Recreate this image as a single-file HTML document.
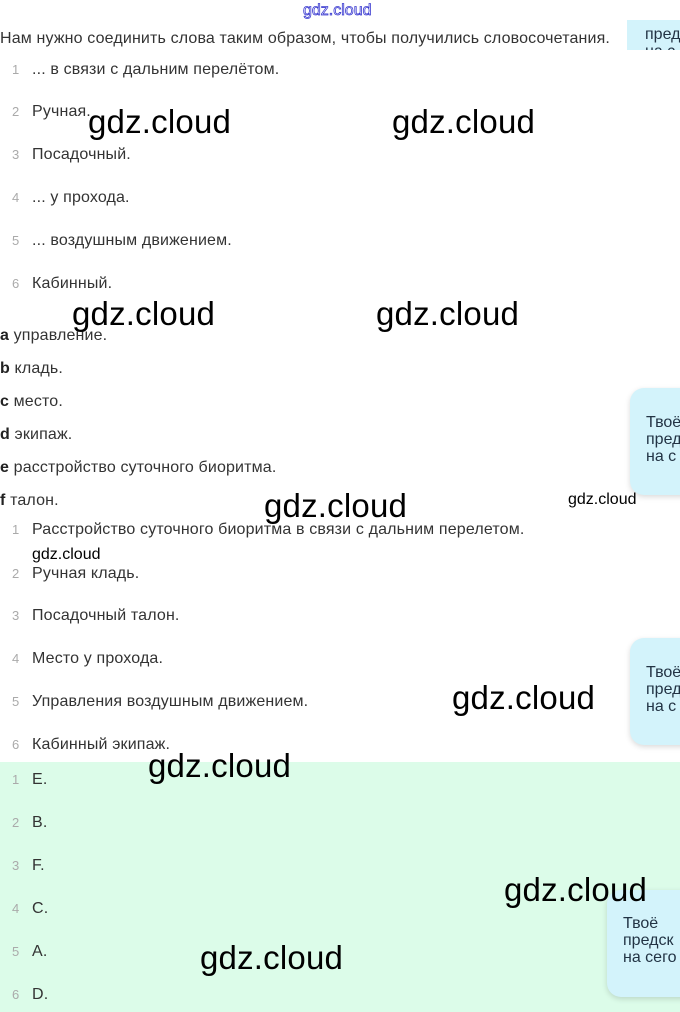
<!DOCTYPE html>
<html><head><meta charset="utf-8"><style>
body{margin:0;width:680px;height:1012px;position:relative;overflow:hidden;background:#fff;font-family:"Liberation Sans","DejaVu Sans",sans-serif;color:#333}
.t{position:absolute;font-size:16px;letter-spacing:0.15px;white-space:nowrap;line-height:16px}
.n{position:absolute;font-size:13px;color:#aaa;line-height:16px}
.w{position:absolute;font-size:33px;color:#000;line-height:36px;white-space:nowrap;font-family:"Liberation Sans",sans-serif;letter-spacing:0.2px}
.ws{position:absolute;font-size:16px;color:#000;line-height:18px}
.box{position:absolute;background:#d3f3fb;border-radius:14px;box-shadow:0 2px 6px rgba(0,0,0,.15);font-size:16px;line-height:17px;color:#234;padding:0 0 0 16px;box-sizing:border-box;width:120px;overflow:hidden}
b{color:#222}
</style></head><body>
<div style="position:absolute;left:0;top:762px;width:680px;height:250px;background:#dcfce9"></div>
<div class="box" style="left:627px;top:20px;height:30px;border-radius:0;box-shadow:none;padding-top:6px;padding-left:18px">пред<br>на с</div>
<div class="box" style="left:630px;top:388px;height:107px;padding-top:26px">Твоё<br>пред<br>на с</div>
<div class="box" style="left:630px;top:638px;height:107px;padding-top:26px">Твоё<br>пред<br>на с</div>
<div class="box" style="left:607px;top:890px;height:107px;padding-top:25px">Твоё<br>предск<br>на сего</div>

<div style="position:absolute;left:303px;top:2px;font-size:16px;color:#fff;-webkit-text-stroke:0.8px #3a3ad0;line-height:18px">gdz.cloud</div>
<div class="t" style="left:0;top:31px">Нам нужно соединить слова таким образом, чтобы получились словосочетания.</div>

<div class="n" style="left:12px;top:62px">1</div><div class="t" style="left:32px;top:62px">... в связи с дальним перелётом.</div>
<div class="n" style="left:12px;top:104px">2</div><div class="t" style="left:32px;top:104px">Ручная.</div>
<div class="n" style="left:12px;top:147px">3</div><div class="t" style="left:32px;top:147px">Посадочный.</div>
<div class="n" style="left:12px;top:190px">4</div><div class="t" style="left:32px;top:190px">... у прохода.</div>
<div class="n" style="left:12px;top:233px">5</div><div class="t" style="left:32px;top:233px">... воздушным движением.</div>
<div class="n" style="left:12px;top:276px">6</div><div class="t" style="left:32px;top:276px">Кабинный.</div>

<div class="t" style="left:0;top:328px"><b>a</b> управление.</div>
<div class="t" style="left:0;top:361px"><b>b</b> кладь.</div>
<div class="t" style="left:0;top:394px"><b>c</b> место.</div>
<div class="t" style="left:0;top:427px"><b>d</b> экипаж.</div>
<div class="t" style="left:0;top:460px"><b>e</b> расстройство суточного биоритма.</div>
<div class="t" style="left:0;top:493px"><b>f</b> талон.</div>

<div class="n" style="left:12px;top:522px">1</div><div class="t" style="left:32px;top:522px">Расстройство суточного биоритма в связи с дальним перелетом.</div>
<div class="n" style="left:12px;top:566px">2</div><div class="t" style="left:32px;top:566px">Ручная кладь.</div>
<div class="n" style="left:12px;top:608px">3</div><div class="t" style="left:32px;top:608px">Посадочный талон.</div>
<div class="n" style="left:12px;top:651px">4</div><div class="t" style="left:32px;top:651px">Место у прохода.</div>
<div class="n" style="left:12px;top:694px">5</div><div class="t" style="left:32px;top:694px">Управления воздушным движением.</div>
<div class="n" style="left:12px;top:737px">6</div><div class="t" style="left:32px;top:737px">Кабинный экипаж.</div>

<div class="n" style="left:12px;top:772px">1</div><div class="t" style="left:32px;top:772px">E.</div>
<div class="n" style="left:12px;top:815px">2</div><div class="t" style="left:32px;top:815px">B.</div>
<div class="n" style="left:12px;top:858px">3</div><div class="t" style="left:32px;top:858px">F.</div>
<div class="n" style="left:12px;top:901px">4</div><div class="t" style="left:32px;top:901px">C.</div>
<div class="n" style="left:12px;top:944px">5</div><div class="t" style="left:32px;top:944px">A.</div>
<div class="n" style="left:12px;top:987px">6</div><div class="t" style="left:32px;top:987px">D.</div>

<div class="w" style="left:88px;top:104px">gdz.cloud</div>
<div class="w" style="left:392px;top:104px">gdz.cloud</div>
<div class="w" style="left:72px;top:296px">gdz.cloud</div>
<div class="w" style="left:376px;top:296px">gdz.cloud</div>
<div class="w" style="left:264px;top:488px">gdz.cloud</div>
<div class="w" style="left:452px;top:680px">gdz.cloud</div>
<div class="w" style="left:148px;top:748px">gdz.cloud</div>
<div class="w" style="left:504px;top:872px">gdz.cloud</div>
<div class="w" style="left:200px;top:940px">gdz.cloud</div>
<div class="ws" style="left:568px;top:491px">gdz.cloud</div>
<div class="ws" style="left:32px;top:546px">gdz.cloud</div>
</body></html>
